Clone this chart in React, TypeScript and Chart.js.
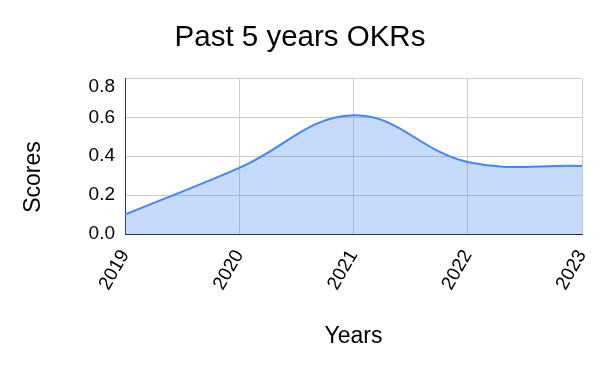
import React, { useEffect, useRef } from "react";
import { Chart, registerables } from "chart.js";

Chart.register(...registerables);

const years = ["2019", "2020", "2021", "2022", "2023"];
const scores = [0.1, 0.34, 0.61, 0.37, 0.35];
const yTicks = [0, 0.2, 0.4, 0.6, 0.8];

const FONT = "'Liberation Sans', Arial, sans-serif";

const yTitlePlugin = {
  id: "yTitle",
  afterDraw(chart: any) {
    const ctx = chart.ctx;
    ctx.save();
    ctx.font = `23px ${FONT}`;
    ctx.fillStyle = "#000";
    ctx.textAlign = "center";
    ctx.textBaseline = "middle";
    ctx.translate(34, 177);
    ctx.rotate(-Math.PI / 2);
    ctx.fillText("Scores", 0, 0);
    ctx.restore();
  },
};

export default function App() {
  const ref = useRef<HTMLCanvasElement>(null);
  useEffect(() => {
    if (!ref.current) return;
    const chart = new Chart(ref.current, {
      type: "line",
      data: {
        labels: years,
        datasets: [
          {
            label: "Scores",
            data: scores,
            borderColor: "#4285f4",
            backgroundColor: "rgba(66,133,244,0.3)",
            borderWidth: 2,
            fill: "origin",
            tension: 0.4,
            pointRadius: 0,
          },
        ],
      },
      options: {
        responsive: false,
        animation: false,
        layout: { padding: 0 },
        plugins: {
          legend: { display: false },
          tooltip: { enabled: false },
          title: {
            display: true,
            text: "Past 5 years OKRs",
            color: "#000",
            font: { family: FONT, size: 29.5, weight: "normal" },
            padding: { top: 20, bottom: 23 },
          },
        },
        scales: {
          x: {
            offset: false,
            grid: { color: "#cccccc", drawTicks: false },
            border: { color: "#333333", width: 1 },
            ticks: {
              color: "#000",
              font: { family: FONT, size: 19 },
              minRotation: 60,
              maxRotation: 60,
              padding: 12,
              autoSkip: false,
            },
            title: {
              display: true,
              text: "Years",
              color: "#000",
              font: { family: FONT, size: 23 },
              padding: { top: 4, bottom: 21 },
            },
            afterFit: (axis: any) => {
              axis.height = 137;
              axis.paddingLeft = 0;
              axis.paddingRight = 18;
            },
          },
          y: {
            min: 0,
            max: 0.8,
            afterBuildTicks: (axis: any) => {
              axis.ticks = yTicks.map((v) => ({ value: v }));
            },
            grid: { color: "#cccccc", drawTicks: false },
            border: { color: "#333333", width: 1 },
            ticks: {
              color: "#000",
              font: { family: FONT, size: 19, lineHeight: 0.92 },
              padding: 10,
              callback: (v: any) => (Number(v) >= 0.79 ? ["", Number(v).toFixed(1)] : Number(v).toFixed(1)),
            },
            afterFit: (axis: any) => {
              axis.width = 125;
            },
          },
        },
      },
      plugins: [yTitlePlugin],
    });
    return () => chart.destroy();
  }, []);
  return (
    <div style={{ position: "absolute", left: 0, top: 0, width: 600, height: 371, background: "#fff" }}>
      <canvas ref={ref} width={600} height={371} />
    </div>
  );
}
